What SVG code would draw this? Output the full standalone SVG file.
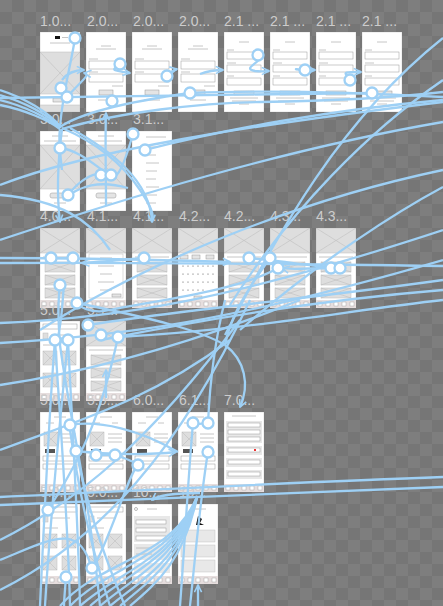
<svg xmlns="http://www.w3.org/2000/svg" xmlns:xlink="http://www.w3.org/1999/xlink" width="443" height="606" viewBox="0 0 443 606">
<defs>
<pattern id="chk" width="24" height="24" patternUnits="userSpaceOnUse">
<rect width="24" height="24" fill="#767676"/>
<rect width="12" height="12" fill="#7e7e7e"/>
<rect x="12" y="12" width="12" height="12" fill="#7e7e7e"/>
</pattern>
<marker id="ah" viewBox="0 0 10 10" refX="9" refY="5" markerWidth="9" markerHeight="9" markerUnits="userSpaceOnUse" orient="auto">
<path d="M1,1 L9,5 L1,9" fill="none" stroke="#9ed0f5" stroke-width="1.8"/>
</marker>
<style>
.lbl{font-family:"Liberation Sans",Arial,sans-serif;font-size:14px;fill:#cdcdcd}
.scr{fill:#ffffff;stroke:#d0d0d0;stroke-width:0.6}
.img{fill:#dedede;stroke:#bdbdbd;stroke-width:0.5}
.x{stroke:#b0b0b0;stroke-width:0.4}
.tl{stroke:#b8b8b8;stroke-width:0.8}
.box{fill:#ffffff;stroke:#999;stroke-width:0.5}
.btn{fill:#e4e4e4;stroke:#999;stroke-width:0.5}
.tab{fill:#e6dede}
.tb{fill:#fff;stroke:#999;stroke-width:0.4}
.w{fill:none;stroke:#9ed0f5;stroke-width:2.3}
.wa{fill:none;stroke:#9ed0f5;stroke-width:2.3;marker-end:url(#ah)}
.dot{fill:#ffffff;stroke:#9ed0f5;stroke-width:2.3}
</style>
<g id="tabbar">
<rect class="tab" x="0" y="72" width="40" height="8"/>
<rect class="tb" x="2" y="74" width="4" height="4"/><rect class="tb" x="10" y="74" width="4" height="4"/><rect class="tb" x="18" y="74" width="4" height="4"/><rect class="tb" x="26" y="74" width="4" height="4"/><rect class="tb" x="34" y="74" width="4" height="4"/>
</g>
<symbol id="s-splash" viewBox="0 0 40 80" width="40" height="80">
<rect class="scr" x="0" y="0" width="40" height="80"/>
<rect x="15" y="4" width="5" height="3" fill="#111"/>
<line class="tl" x1="22" y1="5.5" x2="28" y2="5.5"/>
<line class="tl" x1="10" y1="11" x2="30" y2="11"/>
<rect class="img" x="0" y="20" width="40" height="42"/>
<line class="x" x1="0" y1="20" x2="40" y2="62"/><line class="x" x1="40" y1="20" x2="0" y2="62"/>
<rect class="btn" x="13" y="66" width="14" height="4"/>
<rect class="img" x="0" y="73" width="40" height="7"/>
</symbol>
<symbol id="s-login" viewBox="0 0 40 80" width="40" height="80">
<rect class="scr" x="0" y="0" width="40" height="80"/>
<line class="tl" x1="15" y1="14" x2="25" y2="14"/>
<line class="tl" x1="10" y1="17" x2="30" y2="17"/>
<line class="tl" x1="3" y1="27" x2="12" y2="27"/>
<rect class="box" x="3" y="29" width="34" height="8"/>
<line class="tl" x1="3" y1="40" x2="12" y2="40"/>
<rect class="box" x="3" y="42" width="34" height="8"/>
<line class="tl" x1="26" y1="54" x2="37" y2="54"/>
<rect class="btn" x="13" y="58" width="14" height="5"/>
<line class="tl" x1="12" y1="68" x2="28" y2="68"/>
</symbol>
<symbol id="s-reg" viewBox="0 0 40 80" width="40" height="80">
<rect class="scr" x="0" y="0" width="40" height="80"/>
<line class="tl" x1="15" y1="10" x2="25" y2="10"/>
<line class="tl" x1="3" y1="18" x2="10" y2="18"/>
<rect class="box" x="3" y="20" width="34" height="7"/>
<line class="tl" x1="3" y1="31" x2="12" y2="31"/>
<rect class="box" x="3" y="33" width="34" height="7"/>
<line class="tl" x1="3" y1="44" x2="10" y2="44"/>
<rect class="box" x="3" y="46" width="34" height="7"/>
<rect class="btn" x="10" y="59" width="20" height="4"/>
<line class="tl" x1="6" y1="66" x2="34" y2="66"/><line class="tl" x1="8" y1="69" x2="32" y2="69"/><line class="tl" x1="15" y1="72" x2="25" y2="72"/>
</symbol>
<symbol id="s-img" viewBox="0 0 40 80" width="40" height="80">
<rect class="scr" x="0" y="0" width="40" height="80"/>
<line class="tl" x1="12" y1="5" x2="28" y2="5"/>
<line class="tl" x1="4" y1="10" x2="36" y2="10"/>
<rect class="img" x="0" y="14" width="40" height="44"/>
<line class="x" x1="0" y1="14" x2="40" y2="58"/><line class="x" x1="40" y1="14" x2="0" y2="58"/>
<rect class="btn" x="10" y="62" width="20" height="5" rx="2"/>
<line class="tl" x1="14" y1="72" x2="26" y2="72"/>
</symbol>
<symbol id="s-menu" viewBox="0 0 40 80" width="40" height="80">
<rect class="scr" x="0" y="0" width="40" height="80"/>
<line class="tl" x1="14" y1="6" x2="34" y2="6"/>
<line class="tl" x1="14" y1="16" x2="26" y2="16"/><line class="tl" x1="14" y1="24" x2="24" y2="24"/><line class="tl" x1="14" y1="32" x2="27" y2="32"/><line class="tl" x1="14" y1="40" x2="25" y2="40"/><line class="tl" x1="14" y1="48" x2="24" y2="48"/><line class="tl" x1="14" y1="56" x2="27" y2="56"/><line class="tl" x1="14" y1="64" x2="25" y2="64"/><line class="tl" x1="14" y1="72" x2="24" y2="72"/>
</symbol>
<symbol id="s-list" viewBox="0 0 40 80" width="40" height="80">
<rect class="scr" x="0" y="0" width="40" height="80"/>
<rect class="img" x="0" y="0" width="40" height="25"/>
<line class="x" x1="0" y1="0" x2="40" y2="25"/><line class="x" x1="40" y1="0" x2="0" y2="25"/>
<line class="tl" x1="3" y1="29" x2="37" y2="29"/>
<rect class="img" x="5" y="34" width="30" height="10"/><line class="x" x1="5" y1="34" x2="35" y2="44"/><line class="x" x1="35" y1="34" x2="5" y2="44"/>
<rect class="img" x="5" y="47" width="30" height="10"/><line class="x" x1="5" y1="47" x2="35" y2="57"/><line class="x" x1="35" y1="47" x2="5" y2="57"/>
<rect class="img" x="5" y="60" width="30" height="10"/><line class="x" x1="5" y1="60" x2="35" y2="70"/><line class="x" x1="35" y1="60" x2="5" y2="70"/>
<use href="#tabbar"/>
</symbol>
<symbol id="s-popup" viewBox="0 0 40 80" width="40" height="80">
<rect class="scr" x="0" y="0" width="40" height="80"/>
<rect class="img" x="0" y="0" width="40" height="25"/>
<line class="x" x1="0" y1="0" x2="40" y2="25"/><line class="x" x1="40" y1="0" x2="0" y2="25"/>
<rect x="3" y="26" width="34" height="44" fill="#fff" stroke="#bbb" stroke-width="0.5"/>
<line class="tl" x1="14" y1="30" x2="26" y2="30"/><line class="tl" x1="12" y1="38" x2="28" y2="38"/><line class="tl" x1="14" y1="46" x2="26" y2="46"/><line class="tl" x1="12" y1="54" x2="28" y2="54"/><line class="tl" x1="14" y1="62" x2="26" y2="62"/>
<rect class="btn" x="26" y="66" width="9" height="3"/>
<use href="#tabbar"/>
</symbol>
<symbol id="s-cal" viewBox="0 0 40 80" width="40" height="80">
<rect class="scr" x="0" y="0" width="40" height="80"/>
<rect class="img" x="0" y="0" width="40" height="25"/>
<line class="x" x1="0" y1="0" x2="40" y2="25"/><line class="x" x1="40" y1="0" x2="0" y2="25"/>
<rect class="btn" x="2" y="27" width="8" height="4"/><rect class="btn" x="14" y="27" width="8" height="4"/><rect class="btn" x="28" y="27" width="8" height="4"/>
<g fill="#555"><circle cx="5" cy="38" r="0.6"/><circle cx="10" cy="38" r="0.6"/><circle cx="15" cy="38" r="0.6"/><circle cx="20" cy="38" r="0.6"/><circle cx="25" cy="38" r="0.6"/><circle cx="30" cy="38" r="0.6"/><circle cx="35" cy="38" r="0.6"/>
<circle cx="5" cy="46" r="0.6"/><circle cx="10" cy="46" r="0.6"/><circle cx="15" cy="46" r="0.6"/><circle cx="20" cy="46" r="0.6"/><circle cx="25" cy="46" r="0.6"/><circle cx="30" cy="46" r="0.6"/><circle cx="35" cy="46" r="0.6"/>
<circle cx="5" cy="54" r="0.6"/><circle cx="10" cy="54" r="0.6"/><circle cx="15" cy="54" r="0.6"/><circle cx="20" cy="54" r="0.6"/><circle cx="25" cy="54" r="0.6"/><circle cx="30" cy="54" r="0.6"/><circle cx="35" cy="54" r="0.6"/>
<circle cx="5" cy="62" r="0.6"/><circle cx="10" cy="62" r="0.6"/><circle cx="15" cy="62" r="0.6"/><circle cx="20" cy="62" r="0.6"/><circle cx="25" cy="62" r="0.6"/></g>
<rect class="btn" x="16" y="68" width="8" height="3"/>
<use href="#tabbar"/>
</symbol>
<symbol id="s-form" viewBox="0 0 40 80" width="40" height="80">
<rect class="scr" x="0" y="0" width="40" height="80"/>
<rect class="box" x="3" y="3" width="34" height="5"/>
<rect class="img" x="3" y="12" width="5" height="6"/><line class="tl" x1="11" y1="14" x2="30" y2="14"/>
<line class="tl" x1="3" y1="24" x2="18" y2="24"/>
<rect class="img" x="3" y="30" width="14" height="14"/><line class="x" x1="3" y1="30" x2="17" y2="44"/><line class="x" x1="17" y1="30" x2="3" y2="44"/>
<rect class="img" x="22" y="30" width="14" height="14"/><line class="x" x1="22" y1="30" x2="36" y2="44"/><line class="x" x1="36" y1="30" x2="22" y2="44"/>
<rect class="img" x="3" y="52" width="14" height="14"/><line class="x" x1="3" y1="52" x2="17" y2="66"/><line class="x" x1="17" y1="52" x2="3" y2="66"/>
<rect class="img" x="22" y="52" width="14" height="14"/><line class="x" x1="22" y1="52" x2="36" y2="66"/><line class="x" x1="36" y1="52" x2="22" y2="66"/>
<use href="#tabbar"/>
</symbol>
<symbol id="s-prod" viewBox="0 0 40 80" width="40" height="80">
<rect class="scr" x="0" y="0" width="40" height="80"/>
<line class="tl" x1="14" y1="5" x2="26" y2="5"/>
<line class="tl" x1="6" y1="11" x2="14" y2="11"/><line class="tl" x1="26" y1="11" x2="32" y2="11"/>
<rect class="img" x="4" y="20" width="14" height="14"/><line class="x" x1="4" y1="20" x2="18" y2="34"/><line class="x" x1="18" y1="20" x2="4" y2="34"/>
<line class="tl" x1="22" y1="22" x2="36" y2="22"/><line class="tl" x1="22" y1="26" x2="36" y2="26"/><line class="tl" x1="22" y1="30" x2="36" y2="30"/>
<rect x="5" y="37" width="10" height="4" fill="#555"/>
<rect class="box" x="3" y="44" width="34" height="5"/>
<rect class="box" x="3" y="52" width="34" height="5"/>
<use href="#tabbar"/>
</symbol>
<symbol id="s-set" viewBox="0 0 40 80" width="40" height="80">
<rect class="scr" x="0" y="0" width="40" height="80"/>
<line class="tl" x1="8" y1="4" x2="32" y2="4"/>
<rect x="2" y="9" width="36" height="22" fill="#e8e8e8"/>
<rect class="box" x="4" y="11" width="32" height="4"/><rect class="box" x="4" y="18" width="32" height="4"/><rect class="box" x="4" y="25" width="32" height="4"/>
<rect x="2" y="34" width="36" height="9" fill="#e8e8e8"/><rect class="box" x="4" y="36" width="32" height="4"/><rect x="30" y="37" width="2" height="2" fill="#e33"/>
<rect x="2" y="46" width="36" height="9" fill="#e8e8e8"/><rect class="box" x="4" y="48" width="32" height="4"/>
<rect x="2" y="58" width="36" height="9" fill="#e8e8e8"/><rect class="box" x="4" y="60" width="32" height="4"/>
<use href="#tabbar"/>
</symbol>
<symbol id="s-edit" viewBox="0 0 40 80" width="40" height="80">
<rect class="scr" x="0" y="0" width="40" height="80"/>
<circle cx="4" cy="5" r="1.5" fill="none" stroke="#777" stroke-width="0.5"/><line class="tl" x1="15" y1="5" x2="25" y2="5"/>
<rect x="2" y="12" width="36" height="26" fill="#e8e8e8"/>
<rect class="box" x="4" y="16" width="30" height="4"/><rect class="box" x="4" y="24" width="30" height="4"/><rect class="box" x="4" y="32" width="30" height="4"/>
<rect x="2" y="40" width="36" height="16" fill="#e8e8e8"/><line class="tl" x1="4" y1="44" x2="20" y2="44"/><line class="tl" x1="4" y1="50" x2="20" y2="50"/>
<rect x="2" y="59" width="36" height="10" fill="#e8e8e8"/>
<use href="#tabbar"/>
</symbol>
<symbol id="s-pay" viewBox="0 0 40 80" width="40" height="80">
<rect class="scr" x="0" y="0" width="40" height="80"/>
<line class="tl" x1="12" y1="5" x2="28" y2="5"/>
<path d="M20,12 l4,3 l-2,4 l4,2 l-8,0 z" fill="#111"/>
<rect x="3" y="26" width="34" height="12" fill="#e8e8e8" stroke="#bbb" stroke-width="0.4"/>
<rect x="3" y="41" width="34" height="12" fill="#e8e8e8" stroke="#bbb" stroke-width="0.4"/>
<rect x="3" y="56" width="34" height="12" fill="#e8e8e8" stroke="#bbb" stroke-width="0.4"/>
<use href="#tabbar"/>
</symbol>
</defs>
<rect width="443" height="606" fill="url(#chk)"/>

<g id="n-1-0"><text class="lbl" x="40" y="26">1.0...</text><use href="#s-splash" x="40" y="32"/></g>
<g id="n-2-0a"><text class="lbl" x="87" y="26">2.0...</text><use href="#s-login" x="86" y="32"/></g>
<g id="n-2-0b"><text class="lbl" x="133" y="26">2.0...</text><use href="#s-login" x="132" y="32"/></g>
<g id="n-2-0c"><text class="lbl" x="179" y="26">2.0...</text><use href="#s-login" x="178" y="32"/></g>
<g id="n-2-1a"><text class="lbl" x="224" y="26">2.1 ...</text><use href="#s-reg" x="224" y="32"/></g>
<g id="n-2-1b"><text class="lbl" x="270" y="26">2.1 ...</text><use href="#s-reg" x="270" y="32"/></g>
<g id="n-2-1c"><text class="lbl" x="316" y="26">2.1 ...</text><use href="#s-reg" x="316" y="32"/></g>
<g id="n-2-1d"><text class="lbl" x="362" y="26">2.1 ...</text><use href="#s-reg" x="362" y="32"/></g>

<g id="n-3-0a"><text class="lbl" x="40" y="124">3.0...</text><use href="#s-img" x="40" y="131"/></g>
<g id="n-3-0b"><text class="lbl" x="87" y="124">3.0...</text><use href="#s-img" x="86" y="131"/></g>
<g id="n-3-1"><text class="lbl" x="133" y="124">3.1...</text><use href="#s-menu" x="132" y="131"/></g>

<g id="n-4-0"><text class="lbl" x="40" y="221">4.0...</text><use href="#s-list" x="40" y="228"/></g>
<g id="n-4-1a"><text class="lbl" x="87" y="221">4.1...</text><use href="#s-popup" x="86" y="228"/></g>
<g id="n-4-1b"><text class="lbl" x="133" y="221">4.1...</text><use href="#s-list" x="132" y="228"/></g>
<g id="n-4-2a"><text class="lbl" x="179" y="221">4.2...</text><use href="#s-cal" x="178" y="228"/></g>
<g id="n-4-2b"><text class="lbl" x="224" y="221">4.2...</text><use href="#s-list" x="224" y="228"/></g>
<g id="n-4-3a"><text class="lbl" x="270" y="221">4.3...</text><use href="#s-list" x="270" y="228"/></g>
<g id="n-4-3b"><text class="lbl" x="316" y="221">4.3...</text><use href="#s-list" x="316" y="228"/></g>

<g id="n-5-0a"><text class="lbl" x="40" y="315">5.0...</text><use href="#s-form" x="40" y="321"/></g>
<g id="n-5-1"><text class="lbl" x="87" y="315">5.1...</text><use href="#s-list" x="86" y="321"/></g>

<g id="n-5-0b"><text class="lbl" x="40" y="405">5.0...</text><use href="#s-prod" x="40" y="412"/></g>
<g id="n-5-0c"><text class="lbl" x="87" y="405">5.0...</text><use href="#s-prod" x="86" y="412"/></g>
<g id="n-6-0"><text class="lbl" x="133" y="405">6.0...</text><use href="#s-prod" x="132" y="412"/></g>
<g id="n-6-1"><text class="lbl" x="179" y="405">6.1...</text><use href="#s-prod" x="178" y="412"/></g>
<g id="n-7-0"><text class="lbl" x="224" y="405">7.0...</text><use href="#s-set" x="224" y="412"/></g>

<g id="n-5-0d"><text class="lbl" x="40" y="497">5.0...</text><use href="#s-form" x="40" y="504"/></g>
<g id="n-5-0e"><text class="lbl" x="87" y="497">5.0...</text><use href="#s-form" x="86" y="504"/></g>
<g id="n-10a"><text class="lbl" x="133" y="497">10...</text><use href="#s-edit" x="132" y="504"/></g>
<g id="n-10b"><text class="lbl" x="179" y="497">10...</text><use href="#s-pay" x="178" y="504"/></g>

<g id="connectors">
<path class="w" d="M0,90 C25,98 48,112 60,126"/>
<path class="w" d="M0,95 C25,102 48,115 60,127"/>
<path class="w" d="M0,100 C25,106 48,118 60,128"/>
<path class="w" d="M0,105 C25,110 48,120 60,129"/>
<path class="w" d="M75,38 C72,60 62,95 60,128"/>
<path class="wa" d="M62,80 C68,72 76,70 84,70"/>
<path class="wa" d="M67,97 C80,82 92,74 84,73"/>
<path class="wa" d="M120,65 C112,70 110,70 130,73"/>
<path class="wa" d="M166,76 C170,74 172,70 177,69"/>
<path class="wa" d="M200,74 C208,71 214,70 223,70"/>
<path class="wa" d="M258,55 C265,62 240,68 255,71 C262,72 266,71 269,71"/>
<path class="wa" d="M300,70 C295,68 290,70 315,70"/>
<path class="wa" d="M350,80 C345,72 340,72 361,72"/>
<path class="w" d="M60,127 C85,110 140,100 190,93"/>
<path class="w" d="M190,93 C260,90 350,92 443,97"/>
<path class="w" d="M0,98 C100,97 300,93 372,93"/>
<path class="w" d="M62,129 C120,112 200,103 260,102 C330,101 400,97 443,92"/>
<path class="w" d="M0,185 C90,150 250,125 443,102"/>
<path class="w" d="M0,240 C120,200 280,150 443,122"/>
<path class="w" d="M40,330 C150,260 300,200 443,170"/>
<path class="w" d="M230,305 C290,210 370,130 443,80"/>
<path class="w" d="M240,330 C320,260 400,210 443,187"/>
<path class="w" d="M225,335 C280,230 340,120 443,38"/>
<path class="w" d="M0,323 C120,318 230,300 443,230"/>
<path class="w" d="M0,343 C120,336 230,322 443,260"/>
<path class="w" d="M0,385 C100,370 200,340 300,300"/>
<path class="w" d="M0,450 C80,420 150,400 230,340"/>
<path class="w" d="M0,540 C80,500 150,440 240,320"/>
<path class="w" d="M0,590 C100,540 180,450 250,300"/>
<path class="w" d="M60,129 C58,140 60,150 62,170"/>
<path class="wa" d="M62,129 C58,160 56,190 60,222"/>
<path class="w" d="M60,148 C80,150 100,170 110,175"/>
<path class="w" d="M68,195 C80,180 95,170 110,175"/>
<path class="w" d="M63,200 C80,185 100,180 128,188"/>
<path class="w" d="M62,128 C90,140 120,160 140,190 C150,205 155,215 152,222"/>
<path class="wa" d="M70,128 C110,150 150,180 152,222"/>
<path class="wa" d="M106,205 C106,170 105,140 106,113"/>
<path class="w" d="M133,134 C125,160 118,190 100,175"/>
<path class="w" d="M145,150 C220,130 330,110 443,100"/>
<path class="w" d="M0,195 C60,200 90,220 110,250"/>
<path class="w" d="M0,263 C150,262 300,264 443,266"/>
<path class="wa" d="M0,258 C60,258 160,260 230,262"/>
<path class="w" d="M51,258 L73,258"/>
<path class="wa" d="M144,258 C120,260 100,262 82,263"/>
<path class="w" d="M249,258 C290,262 310,266 337,268"/>
<path class="wa" d="M331,268 C310,268 290,270 282,268"/>
<path class="w" d="M270,258 C240,300 230,320 225,345"/>
<path class="w" d="M278,268 C240,290 160,300 110,310 C90,315 78,305 77,303"/>
<path class="wa" d="M60,285 C58,300 58,320 60,345"/>
<path class="wa" d="M64,285 C62,305 62,325 56,345"/>
<path class="w" d="M77,303 C150,318 200,330 225,345"/>
<path class="w" d="M88,325 C180,310 300,300 443,280"/>
<path class="w" d="M101,340 C200,320 320,300 443,290"/>
<path class="w" d="M118,337 C250,330 350,310 443,300"/>
<path class="wa" d="M225,345 C245,360 250,385 240,407"/>
<path class="wa" d="M106,398 C106,385 106,378 106,370"/>
<path class="w" d="M55,340 C50,400 45,500 40,606"/>
<path class="w" d="M68,340 C60,420 50,520 45,606"/>
<path class="w" d="M55,340 C60,420 68,520 70,606"/>
<path class="w" d="M68,340 C72,420 78,520 80,606"/>
<path class="w" d="M60,345 C70,420 90,500 100,606"/>
<path class="w" d="M70,425 C100,420 140,430 178,452"/>
<path class="wa" d="M76,451 C110,455 150,455 176,452"/>
<path class="w" d="M96,455 L115,455"/>
<path class="w" d="M115,455 C130,460 135,462 138,465"/>
<path class="w" d="M193,423 C200,425 205,423 208,423"/>
<path class="w" d="M208,423 C210,380 215,340 225,300"/>
<path class="w" d="M208,452 C200,500 195,560 190,606"/>
<path class="w" d="M193,423 C188,480 185,540 180,606"/>
<path class="w" d="M0,497 C150,490 300,482 443,477"/>
<path class="w" d="M0,505 C150,498 300,492 443,487"/>
<path class="wa" d="M200,493 C180,493 160,494 152,500"/>
<path class="wa" d="M198,606 C198,600 198,595 198,585"/>
<path class="w" d="M60,606 C100,560 170,560 197,497"/>
<path class="w" d="M70,606 C110,565 172,560 197,497"/>
<path class="w" d="M80,606 C120,570 174,560 197,497"/>
<path class="w" d="M90,606 C128,572 176,560 197,497"/>
<path class="w" d="M100,606 C136,575 178,560 197,497"/>
<path class="w" d="M110,606 C144,578 180,560 197,497"/>
<path class="w" d="M120,606 C150,580 182,560 197,497"/>
<path class="w" d="M130,606 C158,582 184,560 197,497"/>
<path class="w" d="M70,430 C80,500 95,560 110,606"/>
<path class="w" d="M76,451 C90,520 110,570 125,606"/>
<path class="w" d="M66,577 C65,590 64,600 64,606"/>
<path class="w" d="M48,510 C80,460 100,420 118,337"/>
<path class="w" d="M0,560 C50,540 80,520 92,570"/>
<path class="w" d="M92,570 C110,540 130,470 138,465"/>
</g>
<g id="dots">
<circle class="dot" cx="75" cy="38" r="5.5"/>
<circle class="dot" cx="61" cy="88" r="5.5"/>
<circle class="dot" cx="67" cy="97" r="5.5"/>
<circle class="dot" cx="120" cy="64" r="5.5"/>
<circle class="dot" cx="167" cy="76" r="5.5"/>
<circle class="dot" cx="112" cy="101" r="5.5"/>
<circle class="dot" cx="190" cy="93" r="5.5"/>
<circle class="dot" cx="258" cy="55" r="5.5"/>
<circle class="dot" cx="305" cy="70" r="5.5"/>
<circle class="dot" cx="350" cy="80" r="5.5"/>
<circle class="dot" cx="372" cy="93" r="5.5"/>
<circle class="dot" cx="60" cy="148" r="5.5"/>
<circle class="dot" cx="68" cy="195" r="5.5"/>
<circle class="dot" cx="101" cy="175" r="5.5"/>
<circle class="dot" cx="111" cy="175" r="5.5"/>
<circle class="dot" cx="133" cy="134" r="5.5"/>
<circle class="dot" cx="145" cy="150" r="5.5"/>
<circle class="dot" cx="51" cy="258" r="5.5"/>
<circle class="dot" cx="73" cy="258" r="5.5"/>
<circle class="dot" cx="60" cy="285" r="5.5"/>
<circle class="dot" cx="77" cy="303" r="5.5"/>
<circle class="dot" cx="144" cy="258" r="5.5"/>
<circle class="dot" cx="249" cy="258" r="5.5"/>
<circle class="dot" cx="270" cy="258" r="5.5"/>
<circle class="dot" cx="278" cy="268" r="5.5"/>
<circle class="dot" cx="331" cy="268" r="5.5"/>
<circle class="dot" cx="340" cy="268" r="5.5"/>
<circle class="dot" cx="88" cy="325" r="5.5"/>
<circle class="dot" cx="55" cy="340" r="5.5"/>
<circle class="dot" cx="68" cy="340" r="5.5"/>
<circle class="dot" cx="101" cy="335" r="5.5"/>
<circle class="dot" cx="118" cy="337" r="5.5"/>
<circle class="dot" cx="70" cy="425" r="5.5"/>
<circle class="dot" cx="76" cy="451" r="5.5"/>
<circle class="dot" cx="96" cy="455" r="5.5"/>
<circle class="dot" cx="115" cy="455" r="5.5"/>
<circle class="dot" cx="138" cy="465" r="5.5"/>
<circle class="dot" cx="193" cy="423" r="5.5"/>
<circle class="dot" cx="208" cy="423" r="5.5"/>
<circle class="dot" cx="208" cy="452" r="5.5"/>
<circle class="dot" cx="48" cy="510" r="5.5"/>
<circle class="dot" cx="66" cy="577" r="5.5"/>
<circle class="dot" cx="92" cy="568" r="5.5"/>
</g>
</svg>
